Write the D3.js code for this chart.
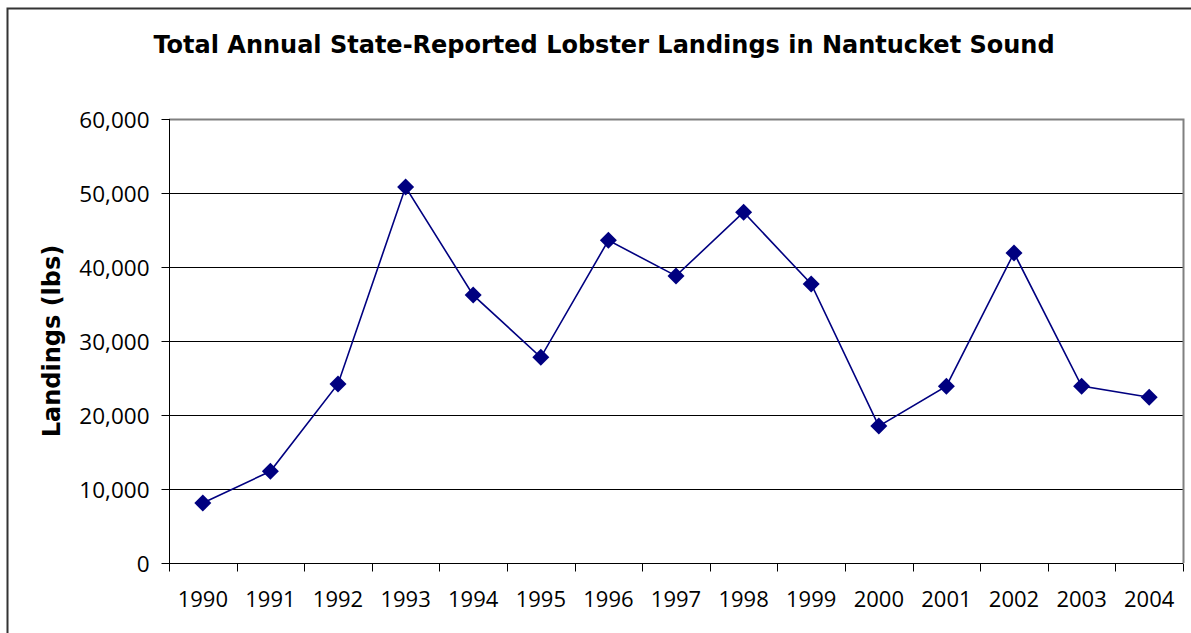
<!DOCTYPE html>
<html>
<head>
<meta charset="utf-8">
<script src="https://cdn.jsdelivr.net/npm/d3@7"></script>
<style>
  html, body { margin: 0; padding: 0; background: #fff; }
  svg { display: block; }
</style>
</head>
<body>
<svg id="chart" width="1191" height="633"></svg>
<script>
// data
const years = ["1990", "1991", "1992", "1993", "1994", "1995", "1996", "1997",
               "1998", "1999", "2000", "2001", "2002", "2003", "2004"];
const landings = [8100, 12400, 24200, 50800, 36200, 27800, 43600, 38800,
                  47400, 37700, 18500, 23900, 41900, 23900, 22400];
const yTicks = [0, 10000, 20000, 30000, 40000, 50000, 60000];

const chartTitle = "Total Annual State-Reported Lobster Landings in Nantucket Sound";
const yTitle = "Landings (lbs)";

const svg = d3.select("#chart");

// plot area
const plotLeft = 169, plotRight = 1183, plotTop = 119, plotBottom = 563;

// outer chart border
svg.append("rect")
    .attr("x", 7.5).attr("y", 8.5)
    .attr("width", 1190).attr("height", 640)
    .attr("fill", "#fff")
    .attr("stroke", "#333")
    .attr("stroke-width", 2);

const x = d3.scaleBand()
    .domain(years)
    .range([plotLeft, plotRight]);

const y = d3.scaleLinear()
    .domain([0, 60000])
    .range([plotBottom, plotTop]);

const fmt = d3.format(",");

// gridlines
svg.append("g")
    .selectAll("line")
    .data(yTicks.filter(d => d > 0 && d < 60000))
    .enter()
    .append("line")
    .attr("x1", plotLeft).attr("x2", plotRight)
    .attr("y1", d => Math.round(y(d)) + 0.5)
    .attr("y2", d => Math.round(y(d)) + 0.5)
    .attr("stroke", "#000")
    .attr("stroke-width", 1);

// plot area border (top + right, grey)
svg.append("path")
    .attr("d", `M${plotLeft},${plotTop + 0.5}H${plotRight + 0.5}V${plotBottom}`)
    .attr("fill", "none")
    .attr("stroke", "#808080")
    .attr("stroke-width", 2);

// y axis
const yAxis = d3.axisLeft(y)
    .tickValues(yTicks)
    .tickFormat(fmt)
    .tickSize(8)
    .tickPadding(12);

const gy = svg.append("g")
    .attr("transform", `translate(${plotLeft + 0.5},0)`)
    .call(yAxis);
gy.select(".domain").attr("stroke", "#000").attr("d", `M0,${plotTop}V${plotBottom}`);
gy.selectAll(".tick line").attr("stroke", "#000");
gy.selectAll(".tick text")
    .attr("font-family", "'Open Sans', sans-serif")
    .attr("font-size", 22.5)
    .attr("fill", "#000")
    .attr("dy", "0.36em");

// x axis: labels centred in each band, ticks between categories
const xAxis = d3.axisBottom(x)
    .tickSize(0)
    .tickPadding(28);

const gx = svg.append("g")
    .attr("transform", `translate(0,${plotBottom + 0.5})`)
    .call(xAxis);
gx.select(".domain").attr("stroke", "#000").attr("d", `M${plotLeft},0H${plotRight}`);
gx.selectAll(".tick text")
    .attr("font-family", "'Open Sans', sans-serif")
    .attr("font-size", 22)
    .attr("fill", "#000");

gx.selectAll("line.sep")
    .data(years.concat(["end"]))
    .enter()
    .append("line")
    .attr("class", "sep")
    .attr("x1", (d, i) => Math.round(plotLeft + i * x.step()) + 0.5)
    .attr("x2", (d, i) => Math.round(plotLeft + i * x.step()) + 0.5)
    .attr("y1", 0).attr("y2", 8)
    .attr("stroke", "#000");

// series line
const line = d3.line()
    .x((d, i) => x(years[i]) + x.bandwidth() / 2)
    .y(d => y(d));

svg.append("path")
    .datum(landings)
    .attr("d", line)
    .attr("fill", "none")
    .attr("stroke", "#000080")
    .attr("stroke-width", 1.6);

// diamond markers
const r = 8.5;
svg.append("g")
    .selectAll("path")
    .data(landings)
    .enter()
    .append("path")
    .attr("transform", (d, i) => `translate(${x(years[i]) + x.bandwidth() / 2},${y(d)})`)
    .attr("d", `M0,${-r}L${r},0L0,${r}L${-r},0Z`)
    .attr("fill", "#000080");

// titles
svg.append("text")
    .attr("x", 604)
    .attr("y", 53)
    .attr("text-anchor", "middle")
    .attr("font-family", "'DejaVu Sans', sans-serif")
    .attr("font-weight", "bold")
    .attr("font-size", 24)
    .text(chartTitle);

svg.append("text")
    .attr("transform", `translate(60,${(plotTop + plotBottom) / 2}) rotate(-90)`)
    .attr("text-anchor", "middle")
    .attr("font-family", "'DejaVu Sans', sans-serif")
    .attr("font-weight", "bold")
    .attr("font-size", 24)
    .text(yTitle);
</script>
</body>
</html>
